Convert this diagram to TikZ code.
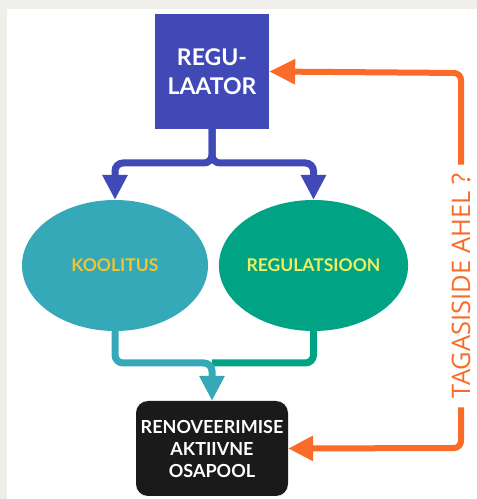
\documentclass[tikz,border=0pt]{standalone}
\usepackage{fontspec}
\setmainfont{Lato}
\newfontfamily\osans{Open Sans}
\usetikzlibrary{arrows.meta,shapes.geometric}
\definecolor{regblue}{RGB}{64,73,181}
\definecolor{koolteal}{RGB}{54,169,185}
\definecolor{regulgreen}{RGB}{0,163,131}
\definecolor{koolyellow}{RGB}{242,196,48}
\definecolor{regulyellow}{RGB}{238,238,96}
\definecolor{fborange}{RGB}{250,106,40}
\definecolor{renblack}{RGB}{26,26,26}
\definecolor{edgegray}{RGB}{240,238,235}
\tikzset{
  conn/.style={line width=7pt, rounded corners=8pt, line cap=butt},
  tip/.style={-{Triangle[width=24pt,length=25pt]}},
  boldtext/.style={font=\bfseries\fontsize{18}{22}\selectfont, align=center},
}
\begin{document}
\begin{tikzpicture}[x=1pt,y=1pt]
\useasboundingbox (0,0) rectangle (477,499);
\fill[edgegray] (0,0) rectangle (477,499);
\fill[white] (7,0) rectangle (477,490);

\node[fill=regblue, minimum width=114pt, minimum height=115pt, inner sep=0pt,
      text=white, font=\bfseries\fontsize{23}{29}\selectfont, align=center]
      (reg) at (212,427.5) {REGU-\\LAATOR};
\node[ellipse, fill=koolteal, minimum width=186pt, minimum height=131pt, inner sep=0pt,
      text=koolyellow, font=\bfseries\fontsize{17.5}{21}\selectfont]
      (kool) at (115,233.5) {KOOLITUS};
\node[ellipse, fill=regulgreen, minimum width=187pt, minimum height=131pt, inner sep=0pt,
      text=regulyellow, font=\bfseries\fontsize{17.5}{21}\selectfont]
      (regul) at (313.5,233.5) {REGULATSIOON};
\node[fill=renblack, rounded corners=12pt, minimum width=152pt, minimum height=95pt,
      inner sep=0pt, text=white, boldtext]
      (ren) at (212,50.5) {RENOVEERIMISE\\AKTIIVNE\\OSAPOOL};

% blue split
\coordinate (bj) at (212,336);
\draw[conn, regblue, tip] (reg.south) -- (bj) -| (kool.north);
\draw[conn, regblue, tip] (reg.south) -- (bj) -| (regul.north);

% merge
\coordinate (tj) at (212,136);
\draw[conn, regulgreen] (regul.south) |- (tj);
\draw[conn, koolteal, tip] (kool.south) |- (tj) -- (ren.north);

% feedback
\node[rotate=90, fill=white, text=fborange, inner xsep=9pt, inner ysep=2pt,
      font=\osans\fontsize{25.5}{30}\selectfont]
      (fb) at (461,213) {TAGASISIDE AHEL ?};
\coordinate (fbtop) at (461,426);
\coordinate (fbbot) at (461,51);
\draw[fborange, line width=6pt, rounded corners=7pt, {Triangle[width=24pt,length=26pt]}-]
  (reg.east) -- (fbtop) -- (fb.east);
\draw[fborange, line width=6pt, rounded corners=7pt, tip]
  (fb.west) -- (fbbot) -- (ren.east);
\end{tikzpicture}
\end{document}
